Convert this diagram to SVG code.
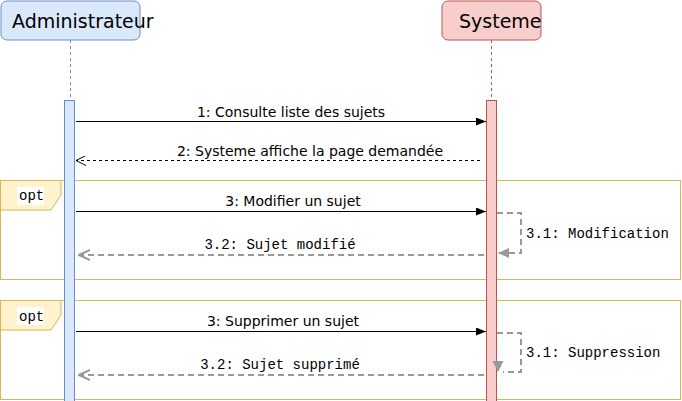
<svg xmlns="http://www.w3.org/2000/svg" width="682" height="401" viewBox="0 0 682 401">
<style>
.title{font-family:"DejaVu Sans",sans-serif;font-size:19px;fill:#000}
.msg{font-family:"DejaVu Sans",sans-serif;font-size:14px;fill:#000;text-anchor:middle}
.mono{font-family:"Liberation Mono",monospace;font-size:14px;fill:#000}
.frame{fill:none;stroke:#d6b656;stroke-width:1}
.tab{fill:#fff2cc;stroke:#d6b656;stroke-width:1}
.sync{stroke:#000;stroke-width:1;fill:none}
.ret{stroke:#000;stroke-width:1;fill:none;stroke-dasharray:3 3}
.gray{stroke:#999;stroke-width:2;fill:none;stroke-dasharray:6 4}
</style>
<defs>
<marker id="fill" markerWidth="10" markerHeight="8" refX="10" refY="4" orient="auto" markerUnits="userSpaceOnUse"><path d="M0,0 L10,4 L0,8 Z" fill="#000"/></marker>
<marker id="open" markerWidth="10" markerHeight="10" refX="10" refY="5" orient="auto" markerUnits="userSpaceOnUse"><path d="M0,0 L10,5 L0,10" fill="none" stroke="#000" stroke-width="1"/></marker>
<marker id="openg" markerWidth="12" markerHeight="12" refX="11" refY="6" orient="auto" markerUnits="userSpaceOnUse"><path d="M0,1 L11,6 L0,11" fill="none" stroke="#999" stroke-width="2"/></marker>
<marker id="fillg" markerWidth="12" markerHeight="10" refX="11" refY="5" orient="auto" markerUnits="userSpaceOnUse"><path d="M0,0 L11,5 L0,10 Z" fill="#999"/></marker>
</defs>
<g id="frame1">
<rect class="frame" x="0.5" y="180.5" width="680" height="99"/>
<path class="tab" d="M0.5,180.5 H61 V195 L51,210 H0.5 Z"/>
<rect x="17" y="187" width="27" height="18" fill="#fff"/>
<text class="mono" x="19" y="200">opt</text>
</g>
<g id="frame2">
<rect class="frame" x="0.5" y="300.5" width="680" height="99"/>
<path class="tab" d="M0.5,300.5 H61 V315 L51,330 H0.5 Z"/>
<rect x="17" y="307" width="27" height="18" fill="#fff"/>
<text class="mono" x="19" y="321">opt</text>
</g>
<g id="administrateur">
<rect x="1" y="1" width="139" height="39" rx="6" fill="#dae8fc" stroke="#6c8ebf"/>
<text class="title" x="12" y="28">Administrateur</text>
<line x1="70.5" y1="40" x2="70.5" y2="100" stroke="#6c8ebf" stroke-dasharray="3 3"/>
<rect x="64.5" y="100.5" width="10" height="310" fill="#dae8fc" stroke="#6c8ebf"/>
</g>
<g id="systeme">
<rect x="442" y="1" width="99" height="39" rx="6" fill="#f8cecc" stroke="#b85450"/>
<text class="title" x="459" y="28">Systeme</text>
<line x1="491.5" y1="40" x2="491.5" y2="100" stroke="#b85450" stroke-dasharray="3 3"/>
<rect x="486.5" y="100.5" width="10" height="310" fill="#f8cecc" stroke="#b85450"/>
</g>
<g id="connectors">
<line class="sync" x1="76" y1="121.5" x2="486" y2="121.5" marker-end="url(#fill)"/>
<text class="msg" x="291" y="117">1: Consulte liste des sujets</text>
<line class="ret" x1="480" y1="160.5" x2="76" y2="160.5" marker-end="url(#open)"/>
<text class="msg" x="310" y="156">2: Systeme affiche la page demandée</text>
<line class="sync" x1="76" y1="211.5" x2="486" y2="211.5" marker-end="url(#fill)"/>
<text class="msg" x="293" y="206">3: Modifier un sujet</text>
<path class="gray" d="M497,213 H521 V253 H498" marker-end="url(#fillg)"/>
<text class="mono" x="526" y="238">3.1: Modification</text>
<line class="gray" x1="484" y1="255" x2="79" y2="255" marker-end="url(#openg)"/>
<text class="mono" x="280" y="249" text-anchor="middle">3.2: Sujet modifié</text>
<line class="sync" x1="76" y1="331.5" x2="486" y2="331.5" marker-end="url(#fill)"/>
<text class="msg" x="283" y="326">3: Supprimer un sujet</text>
<path class="gray" d="M497,333 H521 V372 H503"/>
<polygon points="492.5,361 503.5,361 498,372" fill="#999"/>
<text class="mono" x="526" y="357">3.1: Suppression</text>
<line class="gray" x1="484" y1="375" x2="79" y2="375" marker-end="url(#openg)"/>
<text class="mono" x="280" y="369" text-anchor="middle">3.2: Sujet supprimé</text>
</g>
</svg>
